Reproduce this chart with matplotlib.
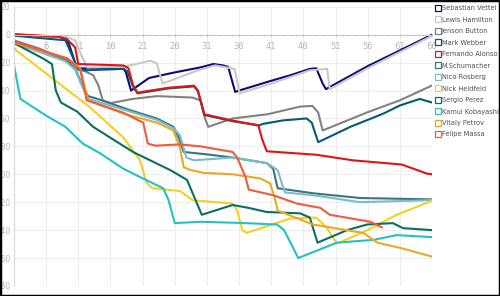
import matplotlib.pyplot as plt
from matplotlib.lines import Line2D
from matplotlib.patches import Rectangle
from matplotlib.ticker import MultipleLocator

# Race history: gap (s) per lap
drivers = ["Sebastian Vettel", "Lewis Hamilton", "Jenson Button", "Mark Webber",
           "Fernando Alonso", "M.Schumacher", "Nico Rosberg", "Nick Heidfeld",
           "Sergio Perez", "Kamui Kobayashi", "Vitaly Petrov", "Felipe Massa"]
colors = ["#0c0c78", "#c8c8c8", "#828282", "#045a78", "#e01414", "#3a7682",
          "#7cbccb", "#f2d024", "#08705e", "#22c2c4", "#eaa824", "#f25a3a"]

vettel_laps = [1, 8, 9, 9.5, 10.5, 11, 14, 18, 18.4, 19.2, 22, 26, 30, 32, 33.5, 34.3, 35.4, 36, 41, 44, 47, 48, 49, 49.5, 56, 66]
vettel_gap = [0, -1.5, -3, -6, -20, -24, -24.5, -24, -27, -40, -31, -27, -23.4, -21, -22, -23, -41, -40, -33, -29, -24.5, -24, -35, -39, -22.5, 0]

hamilton_laps = [1, 9, 10.5, 11.6, 12.4, 18, 20, 22.2, 23.2, 24.1, 29.5, 32.3, 35.3, 36.1, 41, 47, 49.7, 50.1, 56, 66]
hamilton_gap = [-0.5, -1.5, -4, -16, -23.5, -23, -21, -18.6, -20.5, -35, -25.7, -22, -24.5, -42, -35, -25.5, -24.5, -39, -24, -0.8]

button_laps = [1, 5, 10, 11.5, 13.3, 14.1, 14.8, 16, 19.5, 23.2, 28.7, 30, 30.7, 31.2, 35, 40.4, 45.5, 47.4, 48.3, 49, 56, 61, 66]
button_gap = [-4, -10, -20, -25, -29, -36, -47, -49, -46, -44, -45, -47, -60, -66, -60, -57, -51.5, -51, -55.7, -68.6, -55.5, -47, -36.4]

webber_laps = [1, 9, 10.5, 11, 12, 18, 18.6, 19.5, 20.2, 25, 29, 29.6, 30.6, 35, 39.2, 39.6, 42.8, 46.5, 47.3, 48.3, 53.3, 58.4, 61, 64.1, 66]
webber_gap = [-0.7, -4, -20, -25, -25.5, -24.5, -26, -37, -42, -38.5, -37, -40.5, -57.5, -62, -65, -64, -61.4, -60, -63, -77, -66, -56.6, -50.7, -46, -48.6]

alonso_laps = [1, 8, 9.2, 10.5, 11, 18, 18.8, 19.5, 20.2, 25, 29, 29.6, 30.6, 35, 39, 39.6, 40.3, 48, 53.7, 61.3, 65.2, 66]
alonso_gap = [0.5, -1.5, -3, -9, -21, -22, -24, -36, -41.5, -38, -36.5, -40, -57, -61.5, -65, -75, -83.5, -86, -90, -93, -99.5, -100]

schumacher_laps = [1, 9, 10.5, 11.5, 12.5, 14, 19, 23.2, 25.8, 26.6, 27.4, 31.5, 35, 40.3, 41.3, 42, 47.5, 54.8, 66]
schumacher_gap = [-5, -18, -24, -35, -44, -46, -54, -60, -66, -73.6, -84, -86, -88, -92, -96, -110, -113.6, -117, -118]

rosberg_laps = [1, 9, 10.5, 11.5, 12.5, 14, 19, 23.2, 25.8, 26.8, 27.8, 29, 35, 40.3, 42, 43.1, 47.5, 54.8, 66]
rosberg_gap = [-6, -19, -25, -36, -46, -48, -55, -61, -67, -72, -88, -90, -88, -92, -97, -113, -115, -120, -118.5]

heidfeld_laps = [1, 12.8, 18, 20.6, 21.6, 22.5, 26.8, 28.8, 35, 35.7, 36.5, 37.2, 44, 48, 49.6, 51.2, 55.3, 60.5, 66]
heidfeld_gap = [-10, -52, -73.6, -90, -106, -110, -112, -118.6, -121, -126, -140, -142, -131.6, -131, -138, -149.6, -141.6, -129, -119]

perez_laps = [1, 5.5, 6.9, 7.5, 8.3, 10.8, 13.3, 19.5, 25.3, 27.9, 30.2, 35, 37.4, 40.3, 45.5, 47, 48.2, 52.8, 55.9, 59.9, 61.5, 66]
perez_gap = [-6, -17, -21, -40, -48.6, -55, -66, -84, -97, -104, -129, -122, -124, -127, -128, -131, -149, -140, -136, -135, -138.6, -140]

kobayashi_laps = [1, 2, 6, 9, 11.7, 14.4, 18, 20.6, 24.2, 25, 26, 30, 37, 41.9, 43, 45.2, 51.2, 56.9, 60.5, 66]
kobayashi_gap = [-22, -46, -58, -66, -78, -85, -96, -102, -110, -118, -135, -134, -135, -136, -140, -160, -149, -147, -143.6, -145]

petrov_laps = [1, 9.3, 11.3, 12.5, 18, 23.2, 25.8, 26.8, 27.4, 28.5, 30.5, 35, 39.3, 40.8, 41.5, 42, 47.5, 55.3, 57.5, 61.3, 66]
petrov_gap = [-5.7, -17, -24, -47, -56.5, -63, -68.6, -81, -95, -97, -99, -100, -103, -106.4, -116, -126, -136, -142, -149, -153, -159]

massa_laps = [1, 9.3, 11.3, 12.3, 17.9, 21.1, 21.8, 23, 26.8, 30, 35, 35.7, 37, 37.5, 41.3, 45, 48.6, 50.1, 56.4, 58.2]
massa_gap = [-5, -17, -25, -47, -55.7, -63, -78, -79.5, -78.6, -80, -84, -88, -102, -111, -115, -121, -124, -129, -134, -138]

x_ticks = [1, 6, 11, 16, 21, 26, 31, 36, 41, 46, 51, 56, 61, 66]
y_ticks = [20, 0, -20, -40, -60, -80, -100, -120, -140, -160, -180]

series = [(vettel_laps, vettel_gap), (hamilton_laps, hamilton_gap), (button_laps, button_gap),
          (webber_laps, webber_gap), (alonso_laps, alonso_gap), (schumacher_laps, schumacher_gap),
          (rosberg_laps, rosberg_gap), (heidfeld_laps, heidfeld_gap), (perez_laps, perez_gap),
          (kobayashi_laps, kobayashi_gap), (petrov_laps, petrov_gap), (massa_laps, massa_gap)]

fig = plt.figure(figsize=(5, 2.96), dpi=100)
ax = fig.add_axes([0.028, 0.034, 0.836, 0.943])

for (laps, gap), name, col in zip(series, drivers, colors):
    ax.plot(laps, gap, color=col, lw=1.5, label=name, solid_joinstyle="round")

ax.set_xlim(1, 66)
ax.set_ylim(-180, 20)
ax.set_xticks(x_ticks)
ax.set_xticklabels([str(v) for v in x_ticks])
ax.xaxis.set_minor_locator(MultipleLocator(1))
ax.set_yticks(y_ticks)
ax.set_yticklabels([str(v) for v in y_ticks])
ax.yaxis.set_minor_locator(MultipleLocator(10))

ax.grid(True, which="major", color="#eeeeee", lw=0.8)
for s in ["top", "right"]:
    ax.spines[s].set_visible(False)
ax.spines["bottom"].set_position(("data", 0))
ax.spines["bottom"].set_color("#c8c8c8")
ax.spines["left"].set_color("#d8d8d8")
ax.tick_params(axis="x", which="major", direction="inout", length=3, width=0.6,
               color="#c8c8c8", labelcolor="#b4b4b4", labelsize=6, pad=4)
ax.tick_params(axis="x", which="minor", direction="inout", length=2, width=0.5, color="#c8c8c8")
ax.tick_params(axis="y", which="both", direction="out", length=1, width=0.5,
               color="#d0d0d0", labelcolor="#b4b4b4", labelsize=5.5, pad=1.5)

handles = [Line2D([], [], marker="s", ls="none", markersize=3.8, markerfacecolor="white",
                  markeredgecolor=c, markeredgewidth=0.9) for c in colors]
fig.legend(handles, drivers, loc="upper left", bbox_to_anchor=(0.872, 0.982), frameon=False,
           fontsize=4.8, labelcolor="#505050", handlelength=0.6, handletextpad=0.25,
           labelspacing=0.82, borderaxespad=0, borderpad=0)

fig.patches.append(Rectangle((0, 0), 1, 1, transform=fig.transFigure, fill=False,
                             edgecolor="black", lw=2.5, clip_on=False))

plt.savefig("out.png", dpi=100)
